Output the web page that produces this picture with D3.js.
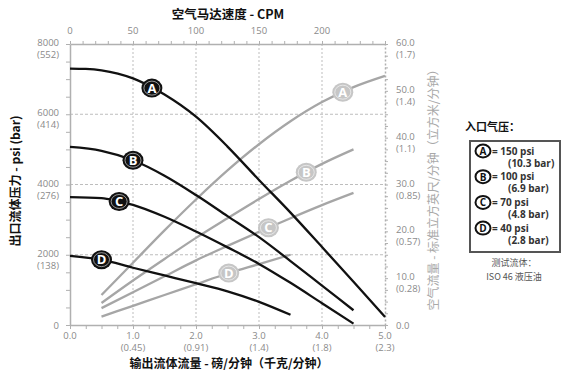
<!DOCTYPE html>
<html><head><meta charset="utf-8">
<script src="https://cdn.jsdelivr.net/npm/d3@7"></script>
<style>
html,body{margin:0;padding:0;background:#fff;}
svg{display:block;font-family:"Open Sans","Liberation Sans","Noto Sans CJK SC",sans-serif;}
</style></head>
<body>
<svg id="c" width="571" height="377"></svg>
<script>
// ---- data ----
const flowTicks = [0,1,2,3,4,5];
const flowTickKg = ["", "(0.45)", "(0.91)", "(1.4)", "(1.8)", "(2.3)"];
const psiTicks = [0,2000,4000,6000,8000];
const psiTickBar = ["", "(138)", "(276)", "(414)", "(552)"];
const scfmTicks = [0,10,20,30,40,50,60];
const scfmTickM3 = ["", "(0.28)", "(0.57)", "(0.85)", "(1.1)", "(1.4)", "(1.7)"];
const cpmTicks = [0,50,100,150,200];
const seriesNames = ["A","B","C","D"];

// outlet fluid pressure (psi) vs flow (lb/min)
const pressureA = [[0,7300],[0.25,7290],[0.5,7250],[1.0,7020],[1.5,6560],[2.0,5930],[2.5,5080],[3.0,4130],[3.5,3200],[4.0,2220],[4.5,1230],[5.0,230]];
const pressureB = [[0,5070],[0.5,4960],[1.0,4690],[1.5,4250],[2.0,3700],[2.5,3100],[3.0,2500],[3.5,1820],[4.0,1120],[4.5,420]];
const pressureC = [[0,3640],[0.5,3610],[0.75,3530],[1.0,3420],[1.5,3080],[2.0,2660],[2.5,2210],[3.0,1740],[3.5,1200],[4.0,620],[4.5,40]];
const pressureD = [[0,1970],[0.5,1860],[1.0,1630],[1.5,1410],[2.0,1190],[2.5,960],[3.0,660],[3.5,290]];
// air consumption (SCFM) vs flow (lb/min)
const airA = [[0.5,6.4],[1.0,13.3],[1.5,20.2],[2.0,26.8],[2.5,33.0],[3.0,38.6],[3.5,43.5],[4.0,47.6],[4.5,50.8],[5.0,53.2]];
const airB = [[0.5,4.7],[1.0,9.5],[1.5,14.1],[2.0,18.6],[2.5,22.8],[3.0,26.9],[3.5,30.8],[4.0,34.4],[4.5,37.5]];
const airC = [[0.5,3.6],[1.0,7.0],[1.5,10.4],[2.0,13.8],[2.5,16.9],[3.0,19.9],[3.5,22.8],[4.0,25.6],[4.5,28.2]];
const airD = [[0.5,1.8],[1.0,4.1],[1.5,6.4],[2.0,8.7],[2.5,11.0],[3.0,13.0],[3.5,15.0]];
// label positions (flow value where the letter sits)
const pressureLabelX = [1.3,1.0,0.78,0.5];
const airLabelX = [4.33,3.75,3.15,2.52];
const legendPsi = ["= 150 psi","= 100 psi","= 70 psi","= 40 psi"];
const legendBar = ["(10.3 bar)","(6.9 bar)","(4.8 bar)","(2.8 bar)"];

const pressureSeries = [pressureA,pressureB,pressureC,pressureD];
const airSeries = [airA,airB,airC,airD];

// ---- layout ----
const L=70, R=385, T=44, B=325;
const svg = d3.select("#c");
const x = d3.scaleLinear().domain([0,5]).range([L,R]);
const xTop = d3.scaleLinear().domain([0,250]).range([L,R]);
const yP = d3.scaleLinear().domain([0,8000]).range([B,T]);
const yA = d3.scaleLinear().domain([0,60]).range([B,T]);
const tickCol="#8a8a8a", axisCol="#b0b0b0", gridCol="#bdbdbd";

// grid
const g = svg.append("g");
g.selectAll(".vg").data([1,2,3,4]).enter().append("line")
 .attr("x1",d=>x(d)).attr("x2",d=>x(d)).attr("y1",T).attr("y2",B)
 .attr("stroke",gridCol).attr("stroke-width",1).attr("stroke-dasharray","2,2");
g.selectAll(".hg").data([2000,4000,6000]).enter().append("line")
 .attr("x1",L).attr("x2",R).attr("y1",d=>yP(d)).attr("y2",d=>yP(d))
 .attr("stroke",gridCol).attr("stroke-width",1).attr("stroke-dasharray","3,2");

// axes
function styleAxis(sel, dashed){
  sel.selectAll(".domain").attr("stroke",axisCol).attr("stroke-width",1.5).attr("stroke-dasharray",dashed?"2,2":null);
  sel.selectAll(".tick line").attr("stroke",axisCol);
  sel.selectAll("text").remove();
}
const bottomAx = svg.append("g").attr("transform",`translate(0,${B})`)
 .call(d3.axisBottom(x).tickValues(d3.range(0,5.001,0.25)).tickSize(4).tickSizeOuter(0));
styleAxis(bottomAx);
const topAx = svg.append("g").attr("transform",`translate(0,${T})`)
 .call(d3.axisTop(xTop).tickValues(d3.range(0,250.1,10)).tickSize(3).tickSizeOuter(0));
styleAxis(topAx);
const leftAx = svg.append("g").attr("transform",`translate(${L},0)`)
 .call(d3.axisLeft(yP).tickValues(d3.range(0,8001,500)).tickSize(4).tickSizeOuter(0));
styleAxis(leftAx);
const rightAx = svg.append("g").attr("transform",`translate(${R},0)`)
 .call(d3.axisRight(yA).tickValues(d3.range(0,60.1,2.5)).tickSize(3).tickSizeOuter(0));
styleAxis(rightAx,true);

// tick labels
const tl = svg.append("g").attr("fill",tickCol).attr("font-size",9.5);
flowTicks.forEach((d,i)=>{
  tl.append("text").attr("x",x(d)).attr("y",B+14).attr("text-anchor","middle").text(d.toFixed(1));
  if(flowTickKg[i]) tl.append("text").attr("x",x(d)).attr("y",B+26).attr("text-anchor","middle").text(flowTickKg[i]);
});
cpmTicks.forEach(d=>{
  tl.append("text").attr("x",xTop(d)).attr("y",T-10).attr("text-anchor","middle").text(d);
});
psiTicks.forEach((d,i)=>{
  tl.append("text").attr("x",L-11).attr("y",yP(d)+(d===0?4:2)).attr("text-anchor","end").text(d);
  if(psiTickBar[i]) tl.append("text").attr("x",L-11).attr("y",yP(d)+14).attr("text-anchor","end").text(psiTickBar[i]);
});
scfmTicks.forEach((d,i)=>{
  tl.append("text").attr("x",R+11).attr("y",yA(d)+(d===0?4:2)).attr("text-anchor","start").text(d.toFixed(1));
  if(scfmTickM3[i]) tl.append("text").attr("x",R+11).attr("y",yA(d)+14).attr("text-anchor","start").text(scfmTickM3[i]);
});

// titles
const cjk = '"Noto Sans CJK SC","Open Sans",sans-serif';
svg.append("text").attr("x",228).attr("y",19).attr("text-anchor","middle")
 .attr("font-family",cjk).attr("font-weight","bold").attr("font-size",12.5).attr("fill","#111").text("空气马达速度 - CPM");
svg.append("text").attr("x",229).attr("y",368).attr("text-anchor","middle")
 .attr("font-family",cjk).attr("font-weight","bold").attr("font-size",12).attr("fill","#111").text("输出流体流量 - 磅/分钟（千克/分钟）");
svg.append("text").attr("transform","translate(20,181) rotate(-90)").attr("text-anchor","middle")
 .attr("font-family",cjk).attr("font-weight","bold").attr("font-size",12).attr("fill","#111").text("出口流体压力 - psi (bar)");
svg.append("text").attr("transform","translate(438,187) rotate(-90)").attr("text-anchor","middle")
 .attr("font-family",cjk).attr("font-size",12).attr("fill","#a9a9a9").text("空气流量 - 标准立方英尺/分钟（立方米/分钟）");

// curves
const lineP = d3.line().x(d=>x(d[0])).y(d=>yP(d[1])).curve(d3.curveMonotoneX);
const lineA = d3.line().x(d=>x(d[0])).y(d=>yA(d[1])).curve(d3.curveMonotoneX);
const airCol="#a6a6a6";
airSeries.forEach(s=>{
  svg.append("path").attr("d",lineA(s)).attr("fill","none").attr("stroke",airCol).attr("stroke-width",2.3);
});
pressureSeries.forEach(s=>{
  svg.append("path").attr("d",lineP(s)).attr("fill","none").attr("stroke","#111").attr("stroke-width",2.3);
});

function interp(s,v){
  for(let i=0;i<s.length-1;i++){
    if(v>=s[i][0] && v<=s[i+1][0]){
      const t=(v-s[i][0])/(s[i+1][0]-s[i][0]);
      return s[i][1]+t*(s[i+1][1]-s[i][1]);
    }
  }
  return s[s.length-1][1];
}
function badge(cx,cy,letter,fill){
  const gg=svg.append("g").attr("transform",`translate(${cx},${cy})`);
  gg.append("ellipse").attr("rx",10.5).attr("ry",9.5).attr("fill",fill);
  gg.append("ellipse").attr("rx",8).attr("ry",7).attr("fill","none").attr("stroke","#fff").attr("stroke-width",0.8).attr("opacity",0.7);
  gg.append("text").attr("y",4.5).attr("text-anchor","middle").attr("font-weight","bold")
    .attr("font-size",13).attr("fill","#fff").text(letter);
}
seriesNames.forEach((n,i)=>{
  const px=pressureLabelX[i];
  badge(x(px),yP(interp(pressureSeries[i],px)),n,"#111");
  const ax=airLabelX[i];
  badge(x(ax),yA(interp(airSeries[i],ax)),n,"#c6c6c6");
});

// legend
const lg = svg.append("g").attr("fill","#333");
lg.append("text").attr("x",465).attr("y",131).attr("font-family",cjk).attr("font-weight","bold").attr("font-size",11).attr("fill","#111").text("入口气压：");
lg.append("rect").attr("x",470).attr("y",141).attr("width",90).attr("height",111)
  .attr("fill","none").attr("stroke","#555").attr("stroke-width",2);
seriesNames.forEach((n,i)=>{
  const cy=151+i*25.7;
  lg.append("ellipse").attr("cx",483).attr("cy",cy).attr("rx",7.5).attr("ry",6.5)
    .attr("fill","#fff").attr("stroke","#111").attr("stroke-width",2);
  lg.append("text").attr("x",483).attr("y",cy+3.8).attr("text-anchor","middle").attr("font-weight","bold").attr("font-size",10).attr("fill","#111").text(n);
  lg.append("text").attr("x",492).attr("y",cy+3.5).attr("font-weight","bold").attr("font-size",10).text(legendPsi[i]);
  lg.append("text").attr("x",508).attr("y",cy+15.5).attr("font-weight","bold").attr("font-size",10).text(legendBar[i]);
});
lg.append("text").attr("x",514).attr("y",266).attr("text-anchor","middle").attr("font-family",cjk).attr("font-size",9).attr("fill","#555").text("测试流体：");
lg.append("text").attr("x",514).attr("y",280).attr("text-anchor","middle").attr("font-family",cjk).attr("font-size",9).attr("fill","#555").text("ISO 46 液压油");
</script>
</body></html>
